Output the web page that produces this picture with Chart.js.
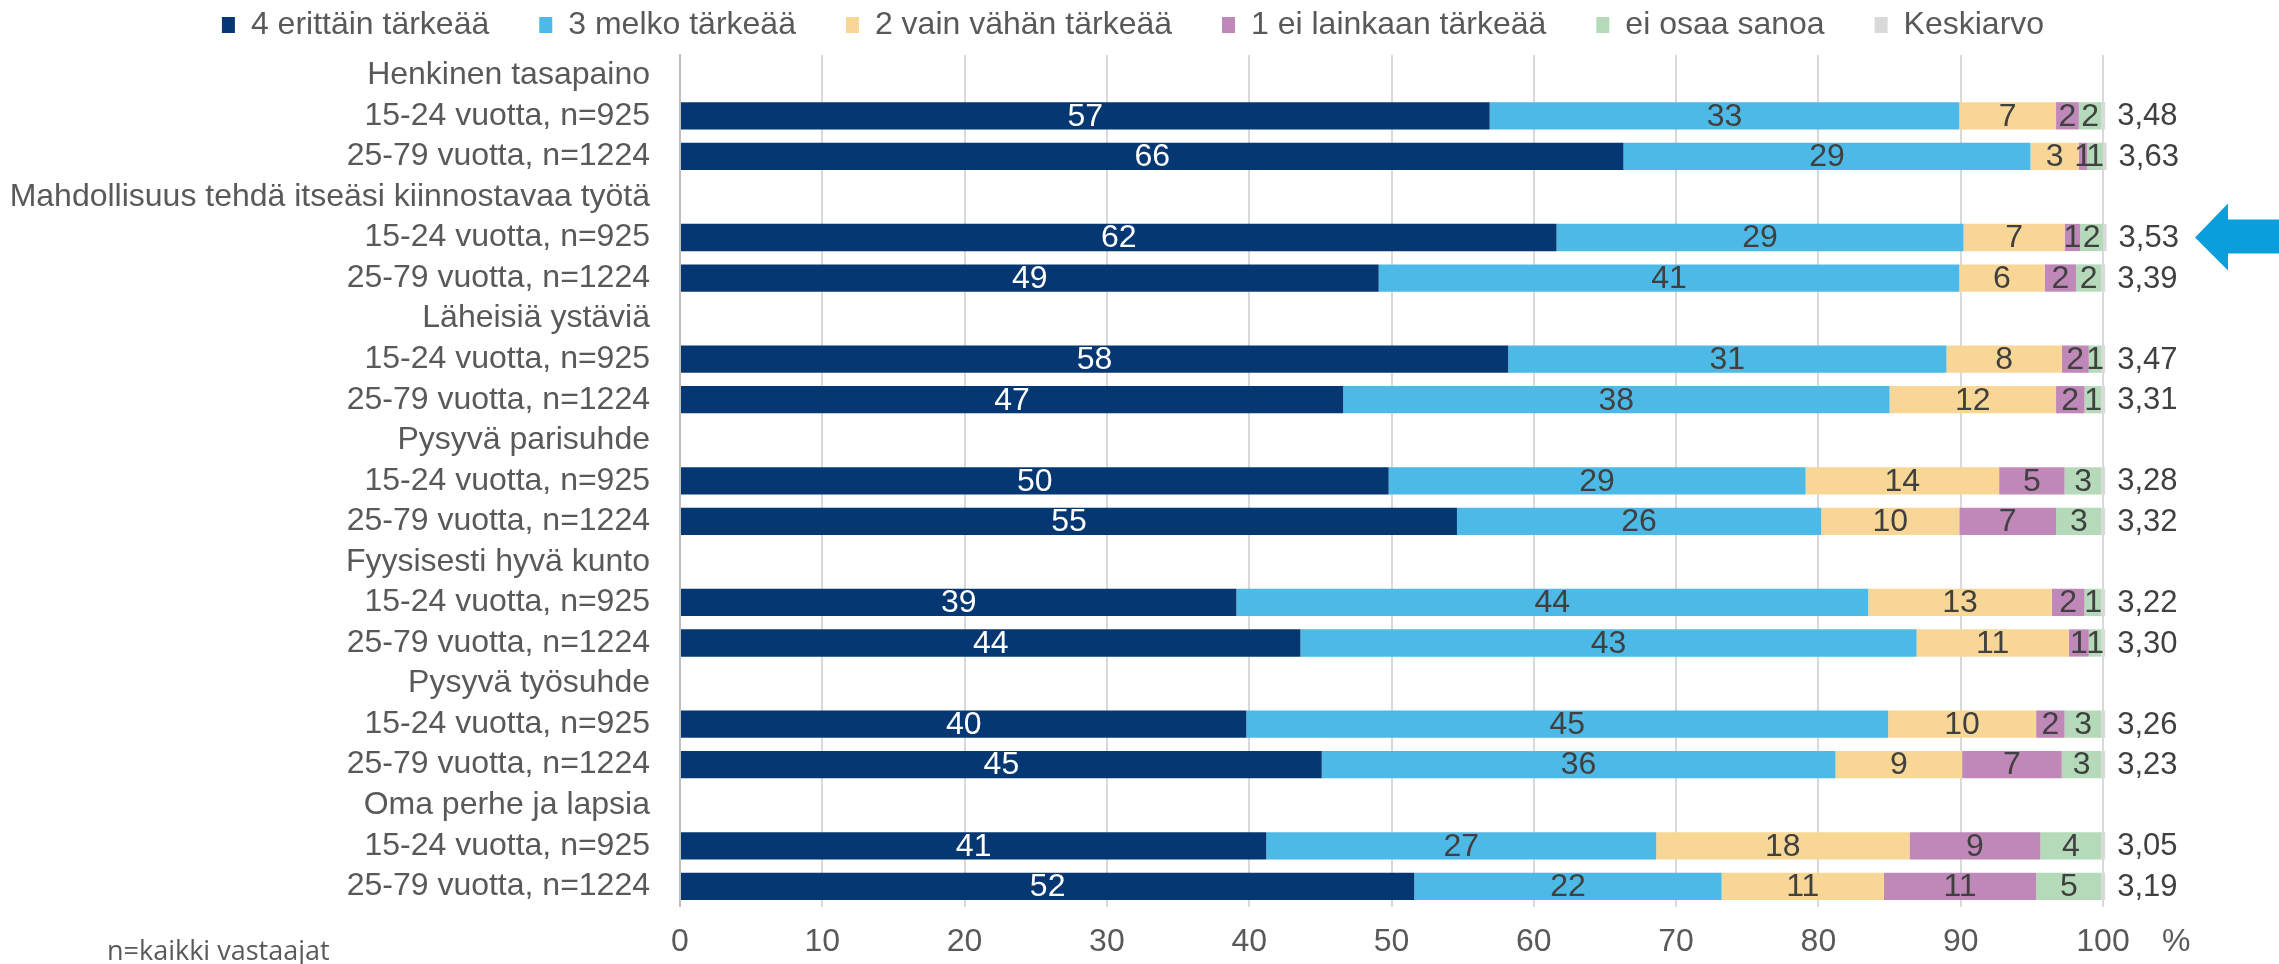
<!DOCTYPE html>
<html>
<head>
<meta charset="utf-8">
<script src="https://cdn.jsdelivr.net/npm/chart.js@4.4.1/dist/chart.umd.min.js"></script>
<style>
html,body{margin:0;padding:0;background:#ffffff;}
canvas{display:block;}
</style>
</head>
<body>
<canvas id="chart" width="2279" height="964"></canvas>
<script>
// ---------- DATA ----------
const groups = [
  "Henkinen tasapaino",
  "Mahdollisuus tehdä itseäsi kiinnostavaa työtä",
  "Läheisiä ystäviä",
  "Pysyvä parisuhde",
  "Fyysisesti hyvä kunto",
  "Pysyvä työsuhde",
  "Oma perhe ja lapsia"
];
const ageGroups = ["15-24 vuotta, n=925", "25-79 vuotta, n=1224"];

const seriesNames = [
  "4 erittäin tärkeää",
  "3 melko tärkeää",
  "2 vain vähän tärkeää",
  "1 ei lainkaan tärkeää",
  "ei osaa sanoa",
  "Keskiarvo"
];

// values per bar row (group order, 15-24 then 25-79), percent
const veryImportant   = [56.9, 66.3, 61.6, 49.1, 58.2, 46.6, 49.8, 54.6, 39.1, 43.6, 39.8, 45.1, 41.2, 51.6];
const fairlyImportant = [33.0, 28.6, 28.6, 40.8, 30.8, 38.4, 29.3, 25.6, 44.4, 43.3, 45.1, 36.1, 27.4, 21.6];
const slightlyImport  = [ 6.8,  3.4,  7.1,  6.0,  8.1, 11.7, 13.6,  9.7, 12.9, 10.7, 10.4,  8.9, 17.8, 11.4];
const notImportant    = [ 1.6,  0.6,  1.1,  2.2,  1.9,  2.0,  4.6,  6.8,  2.3,  1.4,  2.0,  7.0,  9.2, 10.7];
const cannotSay       = [ 1.6,  1.1,  1.6,  1.8,  0.9,  1.2,  2.6,  3.2,  1.2,  0.9,  2.6,  2.8,  4.3,  4.6];
const means           = [3.48, 3.63, 3.53, 3.39, 3.47, 3.31, 3.28, 3.32, 3.22, 3.30, 3.26, 3.23, 3.05, 3.19];

const xTickValues = [0, 10, 20, 30, 40, 50, 60, 70, 80, 90, 100];
const xUnitLabel = "%";
const footnote = "n=kaikki vastaajat";
const highlightRow = { group: 1, age: 0 };   // arrow points at this row

// ---------- STYLE ----------
const colors = ["#053773", "#4DB9E6", "#F8D796", "#C088B8", "#B4DAB9", "#D9D9D9"];
const FONT = '"Liberation Sans", Arial, sans-serif';
const MEAN_SLIVER = 0.25;  // visual width of the grey "Keskiarvo" marker segment

// ---------- BUILD ----------
const labels = [];
groups.forEach(g => { labels.push(g); ageGroups.forEach(a => labels.push(a)); });
function expand(arr) {
  const out = [];
  groups.forEach((g, i) => { out.push(null); ageGroups.forEach((a, j) => out.push(arr[i * ageGroups.length + j])); });
  return out;
}
const seriesValues = [veryImportant, fairlyImportant, slightlyImport, notImportant, cannotSay];
const datasets = seriesValues.map((arr, k) => ({
  label: seriesNames[k],
  data: expand(arr),
  backgroundColor: colors[k],
  borderWidth: 0,
  clip: false
}));
datasets.push({
  label: seriesNames[5],
  data: expand(means.map(() => MEAN_SLIVER)),
  backgroundColor: colors[5],
  borderWidth: 0,
  clip: false
});
const meanRows = expand(means);

const overlay = {
  id: 'overlay',
  afterDatasetsDraw(chart) {
    const ctx = chart.ctx;
    ctx.save();
    ctx.font = '32px ' + FONT;
    ctx.textBaseline = 'middle';
    // segment value labels
    ctx.textAlign = 'center';
    for (let di = 0; di < 5; di++) {
      const ds = chart.data.datasets[di];
      const meta = chart.getDatasetMeta(di);
      meta.data.forEach((el, i) => {
        const v = ds.data[i];
        if (v == null) return;
        const p = el.getProps(['x', 'y', 'base'], true);
        ctx.fillStyle = di === 0 ? '#FFFFFF' : '#404040';
        ctx.fillText(String(Math.round(v)), (p.x + p.base) / 2, p.y + 1);
      });
    }
    // means to the right of bars
    ctx.font = '31px ' + FONT;
    ctx.textAlign = 'left';
    ctx.fillStyle = '#404040';
    const mMeta = chart.getDatasetMeta(5);
    mMeta.data.forEach((el, i) => {
      const m = meanRows[i];
      if (m == null) return;
      const p = el.getProps(['x', 'y'], true);
      ctx.fillText(m.toFixed(2).replace('.', ','), p.x + 12, p.y + 1);
    });
    // unit label next to x tick labels
    const xs = chart.scales.x;
    ctx.font = '32px ' + FONT;
    ctx.fillStyle = '#595959';
    ctx.fillText(xUnitLabel, xs.right + 59, 942);
    // footnote
    ctx.font = '27px "Open Sans", sans-serif';
    ctx.textBaseline = 'alphabetic';
    ctx.fillText(footnote, 107, 960);
    // arrow pointing at highlighted row
    const ys = chart.scales.y;
    const rowIndex = highlightRow.group * (ageGroups.length + 1) + 1 + highlightRow.age;
    const cy = ys.getPixelForValue(rowIndex);
    const tipX = xs.right + 92;
    ctx.fillStyle = '#0A9FDA';
    ctx.beginPath();
    ctx.moveTo(tipX, cy);
    ctx.lineTo(tipX + 33, cy - 34);
    ctx.lineTo(tipX + 33, cy - 18);
    ctx.lineTo(chart.width, cy - 18);
    ctx.lineTo(chart.width, cy + 16);
    ctx.lineTo(tipX + 33, cy + 16);
    ctx.lineTo(tipX + 33, cy + 33);
    ctx.closePath();
    ctx.fill();
    ctx.restore();
  }
};

new Chart(document.getElementById('chart'), {
  type: 'bar',
  data: { labels, datasets },
  plugins: [overlay],
  options: {
    indexAxis: 'y',
    responsive: false,
    animation: false,
    devicePixelRatio: 1,
    layout: { padding: { top: -41, left: 12, right: 25, bottom: 0 } },
    datasets: { bar: { barPercentage: 0.673, categoryPercentage: 1.0 } },
    plugins: {
      legend: {
        position: 'top',
        labels: {
          boxWidth: 13, boxHeight: 16, padding: 50,
          color: '#595959',
          font: { size: 32, family: FONT }
        }
      },
      tooltip: { enabled: false }
    },
    scales: {
      x: {
        stacked: true, min: 0, max: 100,
        afterBuildTicks(s) { s.ticks = xTickValues.map(v => ({ value: v })); },
        ticks: { color: '#595959', font: { size: 32, family: FONT }, padding: 16, maxRotation: 0 },
        grid: { color: '#D9D9D9', lineWidth: 2, drawTicks: false },
        border: { display: false },
        afterFit(s) { s.height = 57.4; }
      },
      xTop: {
        type: 'linear', position: 'top', display: true,
        grid: { display: false, drawTicks: false }, ticks: { display: false }, border: { display: false },
        afterFit(s) { s.height = 4; }
      },
      y: {
        stacked: true,
        ticks: { color: '#595959', font: { size: 32, family: FONT }, padding: 30, autoSkip: false },
        grid: { display: false, drawTicks: false },
        border: { display: true, color: '#BFBFBF', width: 2 },
        afterFit(s) { s.width = 668; }
      },
      yRight: {
        type: 'linear', position: 'right', display: true,
        grid: { display: false, drawTicks: false }, ticks: { display: false }, border: { display: false },
        afterFit(s) { s.width = 151; }
      }
    }
  }
});
</script>
</body>
</html>
